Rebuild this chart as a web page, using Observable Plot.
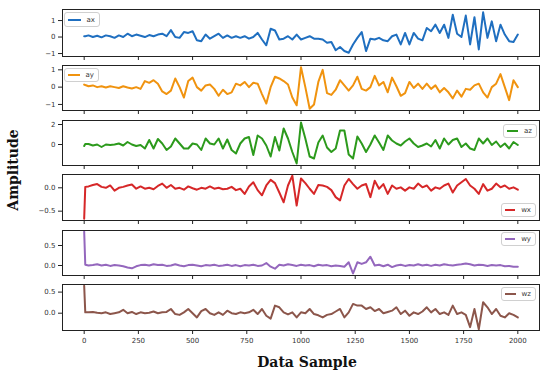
<!DOCTYPE html>
<html>
<head>
<meta charset="utf-8">
<script src="https://cdn.jsdelivr.net/npm/d3@7"></script>
<script src="https://cdn.jsdelivr.net/npm/@observablehq/plot@0.6"></script>
<style>
  html, body { margin: 0; padding: 0; background: #fff; }
  #chart { position: relative; width: 550px; height: 374px; overflow: hidden; font-family: "DejaVu Sans", sans-serif; }
  #chart svg { position: absolute; left: 0; }
  .legend { position: absolute; box-sizing: border-box; border: 1px solid #d0d0d0; border-radius: 3px; background: rgba(255,255,255,0.85);
            font: 7px "DejaVu Sans", sans-serif; color: #333; display: flex; align-items: center; padding: 0 4px 0 3px; }
  .legend span.sw { display: inline-block; width: 15px; height: 2px; margin-right: 6px; }
  .title { position: absolute; font: bold 14px "DejaVu Serif", serif; color: #111; white-space: nowrap; }
</style>
</head>
<body>
<div id="chart"></div>
<script>
// sample index positions (x)
const sampleIdx = [0,5,20,40,60,80,100,120,140,160,180,200,220,240,260,280,300,320,340,360,380,400,420,440,460,480,500,520,540,560,580,600,620,640,660,680,700,720,740,760,780,800,820,840,860,880,900,920,940,960,980,1000,1020,1040,1060,1080,1100,1120,1140,1160,1180,1200,1220,1240,1260,1280,1300,1320,1340,1360,1380,1400,1420,1440,1460,1480,1500,1520,1540,1560,1580,1600,1620,1640,1660,1680,1700,1720,1740,1760,1780,1800,1820,1840,1860,1880,1900,1920,1940,1960,1980,2000];
const xTicks = [0,250,500,750,1000,1250,1500,1750,2000];
const seriesNames = ["ax","ay","az","wx","wy","wz"];

const ax = [0.05,0.05,
 0.1,0.0,0.08,-0.02,0.1,0.05,-0.05,0.1,0.0,0.2,
 0.05,0.15,0.08,0.0,0.12,0.05,0.15,0.2,0.05,0.42,
 0.0,-0.05,0.3,0.25,0.35,-0.2,-0.25,0.15,-0.1,0.05,
 0.2,-0.05,0.1,-0.05,0.05,-0.05,0.05,-0.1,0.0,0.25,
 -0.15,-0.5,0.5,0.4,-0.15,-0.1,0.05,-0.15,0.15,-0.15,
 -0.05,0.05,-0.1,-0.1,-0.15,-0.35,-0.3,-0.8,-0.6,-0.85,
 -0.95,-0.45,-0.05,0.3,-0.85,-0.1,-0.15,-0.05,-0.2,-0.25,
 0.05,0.15,-0.45,0.25,-0.45,0.25,-0.1,-0.2,0.55,0.35,
 0.75,0.25,0.75,-0.05,1.35,0.2,0.0,1.3,-0.45,1.2,
 -0.75,1.5,-0.05,0.95,-0.25,0.75,0.15,-0.25,-0.3,0.15];

const ay = [0.15,0.12,
 0.05,0.1,0.0,0.05,-0.02,0.05,0.0,-0.05,0.05,-0.02,
 -0.08,0.0,-0.1,0.35,0.25,0.4,0.2,-0.25,-0.4,-0.2,
 0.5,0.0,-0.6,0.35,0.55,0.0,-0.2,0.1,0.15,-0.1,
 -0.5,-0.15,-0.4,-0.3,0.2,0.1,0.3,0.0,0.25,0.2,
 -0.4,-0.95,0.0,0.6,0.5,0.35,0.15,-0.6,-1.05,1.15,
 0.0,-1.25,-1.0,0.3,1.0,-0.35,-0.45,-0.15,0.4,0.1,
 -0.2,0.1,0.6,-0.1,-0.2,0.0,0.65,0.1,0.3,-0.3,
 0.55,0.05,-0.5,-0.35,0.3,-0.05,0.2,-0.1,0.2,-0.1,
 0.1,-0.3,-0.05,-0.3,-0.65,-0.2,-0.55,-0.1,-0.15,0.1,
 0.2,-0.3,-0.6,0.0,0.2,0.75,0.0,-0.75,0.4,0.0];

const az = [-0.15,0.05,
 0.05,-0.1,0.0,-0.25,0.0,-0.05,0.0,0.1,-0.1,0.25,
 0.0,-0.15,-0.05,-0.4,0.45,-0.4,0.55,0.1,-0.55,-0.2,
 0.6,0.1,-0.4,-0.4,0.1,0.0,-0.55,0.6,0.1,0.0,
 0.6,-0.4,0.5,-0.55,-0.9,0.1,0.6,0.75,-1.05,0.9,
 0.6,-0.1,-1.2,0.75,-0.6,1.6,0.6,-0.75,-1.9,2.2,
 0.6,-1.2,-1.4,0.2,0.9,-0.3,-0.75,-0.4,1.4,1.4,
 -1.0,-1.4,0.8,0.1,-0.75,0.0,0.9,0.2,-0.55,0.9,
 0.4,0.1,-0.1,0.3,0.6,0.1,-0.25,-0.1,0.1,-0.2,
 0.45,-0.4,0.6,0.0,0.45,0.6,-0.25,0.1,-0.4,-0.55,
 0.6,0.1,0.6,-0.05,0.3,-0.25,0.1,-0.4,0.25,-0.05];

const wx = [-0.66,0.02,
 0.03,0.06,0.08,0.02,0.0,0.05,-0.06,0.0,0.02,0.05,
 0.07,-0.02,0.03,-0.02,0.0,-0.03,0.04,0.09,0.0,0.06,
 -0.02,0.0,-0.04,0.03,-0.01,-0.04,0.0,-0.02,0.03,-0.02,
 0.0,-0.03,-0.02,0.02,-0.05,-0.02,-0.13,0.03,0.12,-0.05,
 -0.16,0.05,0.17,0.1,-0.1,-0.31,0.05,0.26,-0.38,0.2,
 0.1,-0.02,-0.13,0.06,0.05,0.02,-0.05,-0.2,-0.27,0.05,
 0.19,0.08,-0.02,0.05,0.08,-0.2,0.15,-0.02,0.08,-0.13,
 0.05,-0.02,0.01,-0.06,0.01,-0.02,0.09,0.01,0.05,-0.06,
 0.01,-0.02,0.05,0.09,-0.1,0.05,0.12,0.19,0.05,-0.02,
 -0.13,0.08,-0.06,-0.02,0.09,0.01,0.05,-0.02,0.01,-0.04];

const wy = [0.85,0.02,
 0.0,0.01,0.03,0.0,0.02,-0.01,0.01,0.0,-0.02,-0.05,
 -0.07,-0.02,0.01,0.02,0.0,0.03,0.01,0.02,-0.01,0.0,
 0.03,0.0,-0.02,0.01,0.02,0.0,-0.02,0.01,0.0,0.02,
 -0.01,0.0,0.02,-0.01,0.01,-0.02,0.01,0.0,0.02,-0.01,
 0.0,0.06,-0.03,-0.08,0.02,0.0,0.03,0.01,-0.01,0.02,
 0.0,0.01,-0.02,0.02,0.0,0.01,-0.02,0.0,-0.01,-0.03,
 0.08,-0.2,0.08,0.04,0.08,0.22,0.0,0.02,-0.02,0.02,
 -0.04,0.0,0.02,-0.01,0.01,0.0,0.03,0.0,0.02,-0.01,
 0.02,0.0,0.03,0.01,0.0,0.02,0.03,0.05,0.03,0.0,
 0.02,0.01,-0.01,0.01,0.0,0.01,-0.02,-0.01,-0.03,-0.03];

const wz = [0.65,0.02,
 0.02,0.03,0.01,0.0,0.02,-0.02,0.0,0.02,0.08,0.0,
 0.03,-0.02,0.02,0.0,0.01,0.04,0.0,0.02,0.03,0.1,
 -0.02,-0.04,0.02,0.1,0.0,-0.1,0.05,0.1,0.0,-0.04,
 0.02,-0.04,0.06,0.0,-0.02,0.02,0.0,0.02,0.08,-0.02,
 0.1,-0.06,-0.13,0.18,0.14,0.02,-0.03,0.02,-0.1,0.02,
 0.0,0.1,-0.02,-0.05,-0.1,-0.04,-0.02,0.04,0.1,-0.1,
 0.02,0.22,0.18,0.18,0.1,0.14,0.05,0.1,0.0,0.03,
 0.06,0.14,-0.02,0.06,-0.06,0.02,-0.02,0.04,0.14,0.02,
 0.1,-0.02,0.02,-0.04,0.18,-0.02,0.02,-0.04,-0.33,0.1,
 -0.38,0.26,0.14,-0.02,0.1,-0.06,-0.1,0.0,-0.04,-0.1];

const seriesValues = [ax, ay, az, wx, wy, wz];
const seriesColors = ["#1f6fc0", "#f0930f", "#2c9a1c", "#d62728", "#9467bd", "#8c564b"];
const yDomains = [[-1.18, 1.67], [-1.35, 1.25], [-2.1, 2.4], [-0.70, 0.285], [-0.25, 0.875], [-0.41, 0.68]];
const yTicks = [[-1, 0, 1], [-1, 0, 1], [0, 2], [-0.5, 0.0], [0.0, 0.5], [0.0, 0.5]];
const yFormats = ["d", "d", "d", ".1f", ".1f", ".1f"];

// layout (frame top / bottom in page pixels)
const frameTop = [9, 65, 120, 174, 230, 284];
const frameBottom = [56, 110, 165, 220, 275, 330];
const legendBoxes = [[64, 12, 36, 15], [64, 68, 35, 14], [503, 124, 34, 14], [501, 203, 35, 14], [501, 232, 35, 14], [501, 287, 35, 14]];

const root = document.getElementById("chart");

seriesNames.forEach((name, i) => {
  const last = i === seriesNames.length - 1;
  const data = sampleIdx.map((s, k) => ({s, v: seriesValues[i][k]}));
  const mt = 4, mb = last ? 22 : 8;
  const inner = frameBottom[i] - frameTop[i];
  const fmt = d3.format(yFormats[i]);
  const svg = Plot.plot({
    width: 550,
    height: inner + mt + mb,
    marginLeft: 62, marginRight: 11, marginTop: mt, marginBottom: mb,
    style: {background: "transparent", fontFamily: "DejaVu Sans, sans-serif", fontSize: "7px", color: "#333", overflow: "visible"},
    x: {domain: [-100, 2100]},
    y: {domain: yDomains[i]},
    marks: [
      Plot.axisX({ticks: xTicks, tickSize: 4, tickPadding: 4, label: null,
                  tickFormat: last ? (d => String(d)) : (() => ""), stroke: "#222", fill: "#333"}),
      Plot.axisY({ticks: yTicks[i], tickSize: 4, tickPadding: 3, label: null,
                  tickFormat: fmt, stroke: "#222", fill: "#333"}),
      Plot.line(data, {x: "s", y: "v", stroke: seriesColors[i], strokeWidth: 2, strokeLinejoin: "round"}),
      Plot.frame({stroke: "#222", strokeWidth: 1})
    ]
  });
  svg.style.top = (frameTop[i] - mt) + "px";
  root.appendChild(svg);

  const [lx, ly, lw, lh] = legendBoxes[i];
  const lg = document.createElement("div");
  lg.className = "legend";
  lg.style.left = lx + "px"; lg.style.top = ly + "px";
  lg.style.width = lw + "px"; lg.style.height = lh + "px";
  const sw = document.createElement("span");
  sw.className = "sw"; sw.style.background = seriesColors[i];
  lg.appendChild(sw);
  lg.appendChild(document.createTextNode(name));
  root.appendChild(lg);
});

const yTitle = document.createElement("div");
yTitle.className = "title";
yTitle.textContent = "Amplitude";
yTitle.style.left = "13px"; yTitle.style.top = "170px";
yTitle.style.transform = "translate(-50%, -50%) rotate(-90deg)";
root.appendChild(yTitle);

const xTitle = document.createElement("div");
xTitle.className = "title";
xTitle.textContent = "Data Sample";
xTitle.style.left = "307px"; xTitle.style.top = "362px";
xTitle.style.transform = "translate(-50%, -50%)";
root.appendChild(xTitle);
</script>
</body>
</html>
